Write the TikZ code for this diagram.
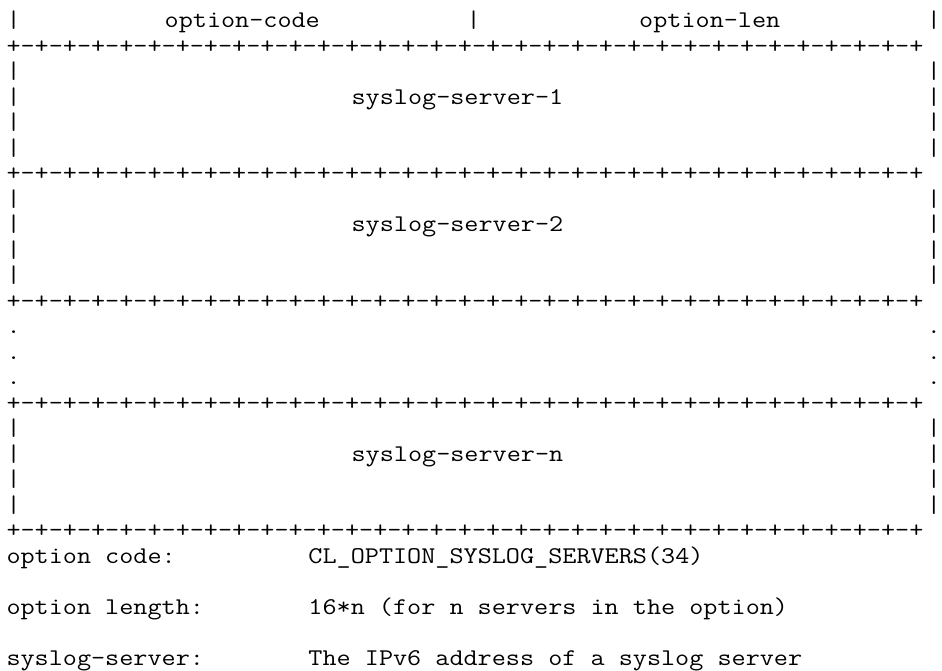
\documentclass[tikz,border=0pt]{standalone}
\usepackage{graphicx}
\tikzset{txt/.style={inner sep=0pt, outer sep=0pt, anchor=base west, font=\ttfamily\fontsize{24}{25.5}\selectfont}}
\newcommand\asc[4]{\node[txt] (#1) at ({(6.5+#2*14.38)*1pt},{-(27.5+#3*25.5)*1pt}) {\scalebox{1.1413}[1]{#4}};}
\newcommand\pgrp{+-+-+-+-}
\newcommand\plusrow{\pgrp\pgrp\pgrp\pgrp\pgrp\pgrp\pgrp\pgrp+}
\begin{document}
\begin{tikzpicture}
\fill[white] (0pt,0pt) rectangle (942pt,-670pt);
\useasboundingbox (0pt,0pt) rectangle (942pt,-670pt);
% header row
\asc{h0}{0}{0}{|}
\asc{h1}{11}{0}{option-code}
\asc{h2}{32}{0}{|}
\asc{h3}{44}{0}{option-len}
\asc{h4}{64}{0}{|}
% separators
\asc{s1}{0}{1}{\plusrow}
\asc{s2}{0}{6}{\plusrow}
\asc{s3}{0}{11}{\plusrow}
\asc{s4}{0}{15}{\plusrow}
\asc{s5}{0}{20}{\plusrow}
% box 1
\asc{b1l2}{0}{2}{|}\asc{b1r2}{64}{2}{|}
\asc{b1l3}{0}{3}{|}\asc{b1r3}{64}{3}{|}
\asc{b1l4}{0}{4}{|}\asc{b1r4}{64}{4}{|}
\asc{b1l5}{0}{5}{|}\asc{b1r5}{64}{5}{|}
\asc{t1}{24}{3}{syslog-server-1}
% box 2
\asc{b2l7}{0}{7}{|}\asc{b2r7}{64}{7}{|}
\asc{b2l8}{0}{8}{|}\asc{b2r8}{64}{8}{|}
\asc{b2l9}{0}{9}{|}\asc{b2r9}{64}{9}{|}
\asc{b2l10}{0}{10}{|}\asc{b2r10}{64}{10}{|}
\asc{t2}{24}{8}{syslog-server-2}
% dots
\asc{d1l}{0}{12}{.}\asc{d1r}{64}{12}{.}
\asc{d2l}{0}{13}{.}\asc{d2r}{64}{13}{.}
\asc{d3l}{0}{14}{.}\asc{d3r}{64}{14}{.}
% box n
\asc{bnl16}{0}{16}{|}\asc{bnr16}{64}{16}{|}
\asc{bnl17}{0}{17}{|}\asc{bnr17}{64}{17}{|}
\asc{bnl18}{0}{18}{|}\asc{bnr18}{64}{18}{|}
\asc{bnl19}{0}{19}{|}\asc{bnr19}{64}{19}{|}
\asc{tn}{24}{17}{syslog-server-n}
% legend
\asc{k1}{0}{21}{option code:}
\asc{v1}{21}{21}{CL\_OPTION\_SYSLOG\_SERVERS(34)}
\asc{k2}{0}{23}{option length:}
\asc{v2}{21}{23}{16*n (for n servers in the option)}
\asc{k3}{0}{25}{syslog-server:}
\asc{v3}{21}{25}{The IPv6 address of a syslog server}
\end{tikzpicture}
\end{document}
